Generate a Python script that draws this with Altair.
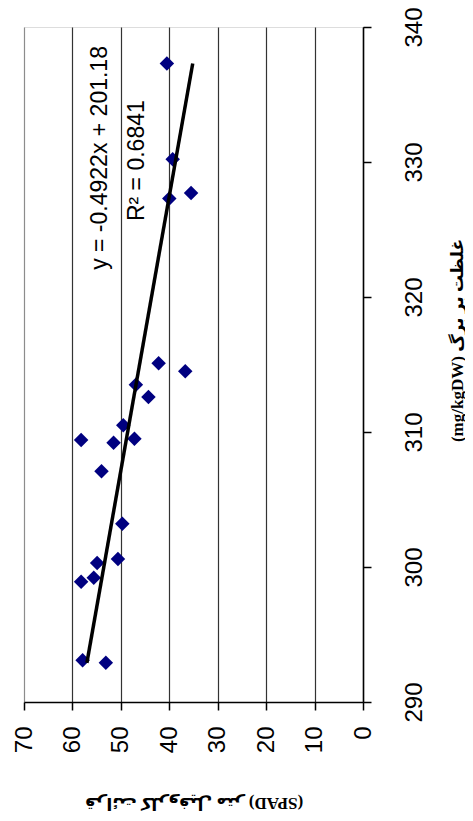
import altair as alt
import pandas as pd

# Leaf concentration (mg/kgDW) and SPAD readings, read from the (rotated) chart
conc = [337.3, 330.2, 327.3, 327.7, 315.1, 314.5, 313.5, 312.6, 310.5, 309.4,
        309.2, 309.5, 307.1, 303.2, 300.6, 300.3, 298.9, 299.2, 293.1, 292.9]
spad = [40.5, 39.3, 40.0, 35.5, 42.2, 36.7, 46.9, 44.3, 49.5, 58.2,
        51.5, 47.2, 54.0, 49.7, 50.6, 54.9, 58.2, 55.6, 57.9, 53.1]

# Linear trend shown on the chart
slope = -0.4922
intercept = 201.18
trend_conc = [min(conc), max(conc)]
trend_spad = [slope * c + intercept for c in trend_conc]

# Annotation labels
ann_text = ["y = -0.4922x + 201.18", "R\u00b2 = 0.6841"]
ann_spad = [54.3, 46.7]
ann_conc = [330.3, 330.1]

spad_ticks = [0, 10, 20, 30, 40, 50, 60, 70]
conc_ticks = [290, 300, 310, 320, 330, 340]

x_title = "(SPAD) قرائت کلروفیل متر"
y_title = "(mg/kgDW) غلظت بر برگ"

pts = pd.DataFrame({"conc": conc, "spad": spad})
trend = pd.DataFrame({"conc": trend_conc, "spad": trend_spad})
ann = pd.DataFrame({"conc": ann_conc, "spad": ann_spad, "t": ann_text})

x_enc = alt.X(
    "spad:Q",
    scale=alt.Scale(domain=[0, 70], reverse=True, nice=False, zero=False),
    axis=alt.Axis(
        orient="bottom", values=spad_ticks, labelAngle=270, labelAlign="right",
        labelBaseline="middle", labelFont="Liberation Sans", labelFontSize=24,
        labelColor="black", labelPadding=16, tickSize=8, tickColor="black",
        tickWidth=1.5, domainColor="black", domainWidth=1.5,
        grid=True,
        gridColor={"condition": {"test": "datum.value === 70", "value": "#8c8c8c"},
                   "value": "#333333"},
        gridWidth=1.2,
        title=x_title, titleAngle=180, titleX=169.5, titleY=100,
        titleAlign="center", titleBaseline="middle",
        titleFont="Liberation Serif, DejaVu Sans", titleFontSize=17,
        titleFontWeight="bold", titleColor="black",
    ),
)
y_enc = alt.Y(
    "conc:Q",
    scale=alt.Scale(domain=[290, 340], nice=False, zero=False),
    axis=alt.Axis(
        orient="right", values=conc_ticks, labelAngle=270, labelAlign="center",
        labelBaseline="top", labelFont="Liberation Sans", labelFontSize=24,
        labelColor="black", labelPadding=31, tickSize=8, tickColor="black",
        tickWidth=1.5, domainColor="black", domainWidth=1.5, grid=False,
        title=y_title, titleAngle=270, titleX=94, titleY=313,
        titleAlign="center", titleBaseline="middle",
        titleFont="Liberation Serif, DejaVu Sans", titleFontSize=17,
        titleFontWeight="bold", titleColor="black",
    ),
)

points = alt.Chart(pts).mark_point(
    shape="diamond", filled=True, color="#000080", size=210, opacity=1
).encode(x=x_enc, y=y_enc)

line = alt.Chart(trend).mark_line(color="black", strokeWidth=3.5).encode(
    x="spad:Q", y="conc:Q"
)

text = alt.Chart(ann).mark_text(
    angle=270, fontSize=23, font="Liberation Sans", color="black",
    align="center", baseline="middle"
).encode(x="spad:Q", y="conc:Q", text="t:N")

chart = alt.layer(points, line, text).properties(
    width=339, height=675,
    autosize=alt.AutoSizeParams(type="none"),
    padding={"left": 16, "top": 19, "right": 102, "bottom": 111},
).configure_view(stroke="#8c8c8c", strokeWidth=1.5).configure(background="white")

chart.save("out.html", embed_options={"renderer": "svg", "actions": False})
